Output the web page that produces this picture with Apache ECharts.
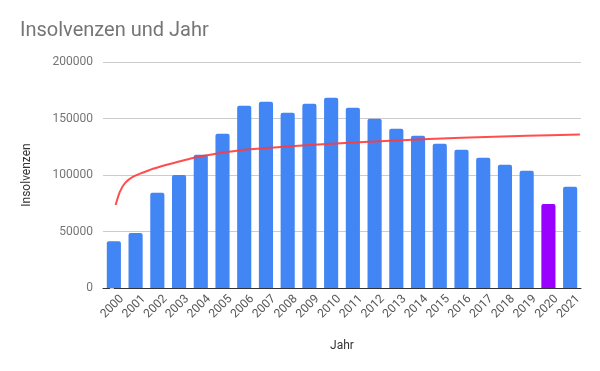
<!DOCTYPE html>
<html>
<head>
<meta charset="utf-8">
<script src="https://cdn.jsdelivr.net/npm/echarts@6/dist/echarts.min.js"></script>
<style>
html,body{margin:0;padding:0;background:#fff;}
#chart{width:600px;height:371px;}
</style>
</head>
<body>
<div id="chart"></div>
<script>
const years = ['2000','2001','2002','2003','2004','2005','2006','2007','2008','2009','2010','2011','2012','2013','2014','2015','2016','2017','2018','2019','2020','2021'];
const insolvenzen = [41400, 48700, 84200, 100000, 117900, 136400, 161300, 164800, 155100, 163000, 168400, 159500, 149800, 140900, 134700, 127600, 122300, 115200, 109000, 103700, 74400, 89500];
const highlightYear = '2020';
// trendline: position (category index) and value
const trendX = [0.08, 0.28, 0.51, 0.89, 1.66, 2.43, 3.19, 4, 6, 8, 10, 13, 16, 19, 21.45];
const trendY = [73500, 85300, 92800, 98600, 104500, 109000, 112800, 116500, 122300, 125200, 127600, 130500, 132900, 134700, 135800];
const yTicks = [0, 50000, 100000, 150000, 200000];

const chart = echarts.init(document.getElementById('chart'), null, {renderer: 'canvas'});
const font = 'Roboto, "Noto Sans", Arial, sans-serif';

const barData = insolvenzen.map((v, i) => years[i] === highlightYear
  ? {value: v, itemStyle: {color: '#9900ff'}}
  : v);
const trendData = trendX.map((x, i) => [x, trendY[i]]);

chart.setOption({
  animation: false,
  backgroundColor: '#ffffff',
  title: {
    text: 'Insolvenzen und Jahr',
    left: 20, top: 21, padding: 0,
    textStyle: {fontFamily: font, fontSize: 20, fontWeight: 'normal', color: '#757575'}
  },
  grid: [
    {left: 103, right: 19, top: 62, bottom: 83, containLabel: false},
    // label grid: same plot, shifted right so rotated labels sit like the reference
    {left: 111, right: 11, top: 62, bottom: 83, containLabel: false}
  ],
  xAxis: [{
    type: 'category',
    gridIndex: 0,
    data: years,
    name: 'Jahr',
    nameLocation: 'middle',
    nameGap: 52,
    nameTextStyle: {fontFamily: font, fontSize: 12, color: '#333333'},
    axisLine: {show: true, lineStyle: {color: '#333333', width: 1}},
    axisTick: {show: false},
    axisLabel: {show: false}
  }, {
    type: 'value',
    gridIndex: 0,
    min: -0.5, max: 21.5,
    show: false
  }, {
    type: 'category',
    gridIndex: 1,
    data: years,
    axisLine: {show: false},
    axisTick: {show: false},
    splitLine: {show: false},
    axisLabel: {rotate: 45, hideOverlap: false, fontFamily: font, fontSize: 12, color: '#555555', margin: 9, interval: 0}
  }],
  yAxis: [{
    type: 'value',
    gridIndex: 0,
    min: yTicks[0], max: yTicks[yTicks.length - 1], interval: 50000,
    name: 'Insolvenzen',
    nameLocation: 'middle',
    nameGap: 70,
    nameRotate: 90,
    nameTextStyle: {fontFamily: font, fontSize: 12, color: '#333333'},
    axisLine: {show: false},
    axisTick: {show: true, length: 4, lineStyle: {color: '#cccccc'}},
    axisLabel: {fontFamily: font, fontSize: 12, color: '#757575', margin: 10, formatter: v => String(v)},
    splitLine: {lineStyle: {color: '#cccccc', width: 1}}
  }, {
    type: 'value',
    gridIndex: 1,
    show: false
  }],
  series: [{
    type: 'bar',
    xAxisIndex: 0, yAxisIndex: 0,
    data: barData,
    barCategoryGap: '35%',
    itemStyle: {color: '#4285f4', borderRadius: [2, 2, 0, 0]}
  }, {
    type: 'line',
    xAxisIndex: 1, yAxisIndex: 0,
    data: trendData,
    smooth: 0.3,
    symbol: 'none',
    lineStyle: {color: '#ff3b3b', width: 2, opacity: 0.9},
    z: 5
  }]
});
</script>
</body>
</html>
